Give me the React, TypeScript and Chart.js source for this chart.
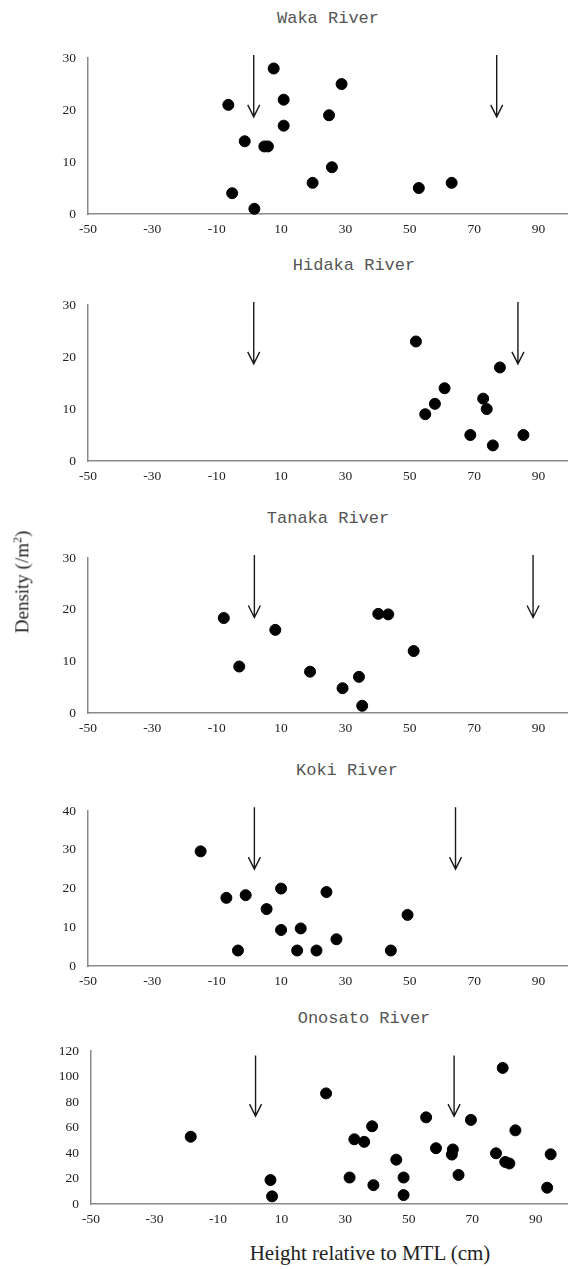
import React, { useEffect, useRef } from "react";
import { Chart, registerables } from "chart.js";
Chart.register(...registerables);

// ---------- data ----------
const xTickValues = [-50, -30, -10, 10, 30, 50, 70, 90];

const wakaX = [-6.4, 7.7, 10.8, 28.8, 24.9, 10.8, -1.3, 4.8, 5.9, 25.8, 19.8, -5.2, 1.7, 52.8, 63.0];
const wakaY = [21, 28, 22, 25, 19, 17, 14, 13, 13, 9, 6, 4, 1, 5, 6];
const wakaArrowX = [1.5, 77];
const wakaArrowY = [30.6, 18.7];

const hidakaX = [51.9, 78.0, 60.8, 57.8, 54.8, 72.8, 73.9, 68.8, 75.8, 85.3];
const hidakaY = [23, 18, 14, 11, 9, 12, 10, 5, 3, 5];
const hidakaArrowX = [1.5, 83.6];
const hidakaArrowY = [30.6, 18.7];

const tanakaX = [-7.8, 8.2, -3.0, 19.0, 29.1, 34.2, 35.2, 40.2, 43.3, 51.2];
const tanakaY = [18.4, 16.1, 9.0, 8.0, 4.8, 7.0, 1.4, 19.2, 19.1, 12.0];
const tanakaArrowX = [1.7, 88.3];
const tanakaArrowY = [30.6, 18.5];

const kokiX = [-15.0, -7.0, -1.0, 10.0, 24.1, 5.5, 10.0, 16.1, 27.2, -3.4, 15.0, 21.0, 44.1, 49.3];
const kokiY = [29.6, 17.6, 18.3, 20.0, 19.1, 14.7, 9.3, 9.7, 6.9, 4.0, 4.0, 4.0, 4.0, 13.2];
const kokiArrowX = [1.7, 64.2];
const kokiArrowY = [41.0, 25.0];

const onosatoX = [-18.6, 6.5, 7.0, 24.0, 31.4, 32.9, 36.0, 38.5, 38.9, 46.1, 48.4, 48.4, 55.5, 58.6, 63.9, 63.6, 65.7, 69.6, 79.6, 77.5, 80.4, 81.7, 83.6, 94.7, 93.6];
const onosatoY = [52.8, 18.8, 6, 86.8, 20.8, 50.8, 48.8, 61, 14.8, 34.8, 20.8, 7, 68, 43.8, 42.8, 38.8, 22.8, 66, 106.8, 39.8, 33, 31.8, 57.8, 39, 12.8];
const onosatoArrowX = [1.8, 64.3];
const onosatoArrowY = [116.5, 69];

const yAxisTitle = "Density (/m";
const xAxisTitle = "Height relative to MTL (cm)";

// ---------- layout ----------
const PAD_TOP = 14;
const X_AXIS_H = 30;
const W = 574;

type PanelCfg = {
  title: string;
  titleX: number;
  titleY: number;
  top: number;
  bottom: number;
  left: number;
  right: number;
  xMax: number;
  yMax: number;
  yStep: number;
  xs: number[];
  ys: number[];
  arrowX: number[];
  arrowY: number[];
};

const panels: PanelCfg[] = [
  { title: "Waka River", titleX: 328, titleY: 18, top: 52, bottom: 214, left: 88, right: 572, xMax: 99, yMax: 30, yStep: 10, xs: wakaX, ys: wakaY, arrowX: wakaArrowX, arrowY: wakaArrowY },
  { title: "Hidaka River", titleX: 354, titleY: 265, top: 299, bottom: 461, left: 88, right: 572, xMax: 99, yMax: 30, yStep: 10, xs: hidakaX, ys: hidakaY, arrowX: hidakaArrowX, arrowY: hidakaArrowY },
  { title: "Tanaka River", titleX: 328, titleY: 518, top: 552, bottom: 713, left: 88, right: 572, xMax: 99, yMax: 30, yStep: 10, xs: tanakaX, ys: tanakaY, arrowX: tanakaArrowX, arrowY: tanakaArrowY },
  { title: "Koki River", titleX: 347, titleY: 770, top: 805, bottom: 966, left: 88, right: 572, xMax: 99, yMax: 40, yStep: 10, xs: kokiX, ys: kokiY, arrowX: kokiArrowX, arrowY: kokiArrowY },
  { title: "Onosato River", titleX: 364, titleY: 1018, top: 1045, bottom: 1204, left: 91, right: 570, xMax: 100, yMax: 120, yStep: 20, xs: onosatoX, ys: onosatoY, arrowX: onosatoArrowX, arrowY: onosatoArrowY },
];

const arrowPlugin = {
  id: "arrowMarks",
  afterDatasetsDraw(chart: any, _args: any, opts: any) {
    const xs: number[] = opts.xs || [];
    const yv: number[] = opts.ys || [];
    const sx = chart.scales.x;
    const sy = chart.scales.y;
    const ctx = chart.ctx;
    ctx.save();
    ctx.strokeStyle = "#1a1a1a";
    ctx.lineWidth = 1.4;
    xs.forEach((xv) => {
      const px = sx.getPixelForValue(xv);
      const y0 = sy.getPixelForValue(yv[0]);
      const y1 = sy.getPixelForValue(yv[1]);
      ctx.beginPath();
      ctx.moveTo(px, y0);
      ctx.lineTo(px, y1);
      ctx.moveTo(px - 6, y1 - 12);
      ctx.lineTo(px, y1);
      ctx.lineTo(px + 6, y1 - 12);
      ctx.stroke();
    });
    ctx.restore();
  },
};

const tickFont = { family: "'Liberation Serif', 'Times New Roman', serif", size: 13.5 };

function Panel({ cfg }: { cfg: PanelCfg }) {
  const ref = useRef<HTMLCanvasElement>(null);
  const canvasTop = cfg.top - PAD_TOP;
  const canvasH = cfg.bottom - cfg.top + PAD_TOP + X_AXIS_H;
  useEffect(() => {
    if (!ref.current) return;
    const chart = new Chart(ref.current, {
      type: "scatter",
      data: {
        datasets: [
          {
            data: cfg.xs.map((x, i) => ({ x, y: cfg.ys[i] })),
            backgroundColor: "#000",
            borderColor: "#000",
            pointRadius: 5.5,
            pointHoverRadius: 5.5,
            clip: false as any,
          },
        ],
      },
      options: {
        responsive: false,
        animation: false,
        devicePixelRatio: 1,
        events: [],
        layout: { padding: { top: PAD_TOP, right: W - cfg.right, left: 0, bottom: 0 } },
        plugins: {
          legend: { display: false },
          tooltip: { enabled: false },
          title: { display: false },
          arrowMarks: { xs: cfg.arrowX, ys: cfg.arrowY },
        } as any,
        scales: {
          x: {
            type: "linear",
            min: -50,
            max: cfg.xMax,
            grid: { display: false, drawTicks: false },
            border: { display: true, color: "#8a8a8a", width: 1.5 },
            ticks: { color: "#222", font: tickFont, padding: 7, maxRotation: 0 },
            afterBuildTicks: (s: any) => {
              s.ticks = xTickValues.map((v) => ({ value: v }));
            },
            afterFit: (s: any) => {
              s.height = X_AXIS_H;
            },
          },
          y: {
            type: "linear",
            min: 0,
            max: cfg.yMax,
            grid: { display: false, drawTicks: false },
            border: { display: true, color: "#8a8a8a", width: 1.5 },
            ticks: { color: "#222", font: tickFont, padding: 12, stepSize: cfg.yStep },
            afterFit: (s: any) => {
              s.width = cfg.left;
            },
          },
        },
      },
      plugins: [arrowPlugin],
    });
    return () => chart.destroy();
  }, []);
  return (
    <>
      <canvas
        ref={ref}
        width={W}
        height={canvasH}
        style={{ position: "absolute", left: 0, top: canvasTop, width: W, height: canvasH }}
      />
      <div
        style={{
          position: "absolute",
          left: cfg.titleX,
          top: cfg.titleY,
          transform: "translate(-50%, -50%)",
          fontFamily: "'Liberation Mono', monospace",
          fontSize: 17,
          color: "#555",
          whiteSpace: "nowrap",
        }}
      >
        {cfg.title}
      </div>
    </>
  );
}

export default function App() {
  return (
    <div style={{ position: "absolute", left: 0, top: 0, width: W, height: 1269, background: "#fff", overflow: "hidden" }}>
      {panels.map((p) => (
        <Panel key={p.title} cfg={p} />
      ))}
      <div
        style={{
          position: "absolute",
          left: 22,
          top: 582,
          transform: "translate(-50%, -50%) rotate(-90deg)",
          fontFamily: "'Liberation Serif', 'Times New Roman', serif",
          fontSize: 19,
          color: "#222",
          whiteSpace: "nowrap",
        }}
      >
        {yAxisTitle}
        <sup style={{ fontSize: 12 }}>2</sup>)
      </div>
      <div
        style={{
          position: "absolute",
          left: 370,
          top: 1253,
          transform: "translate(-50%, -50%)",
          fontFamily: "'Liberation Serif', 'Times New Roman', serif",
          fontSize: 21,
          color: "#222",
          whiteSpace: "nowrap",
        }}
      >
        {xAxisTitle}
      </div>
    </div>
  );
}
